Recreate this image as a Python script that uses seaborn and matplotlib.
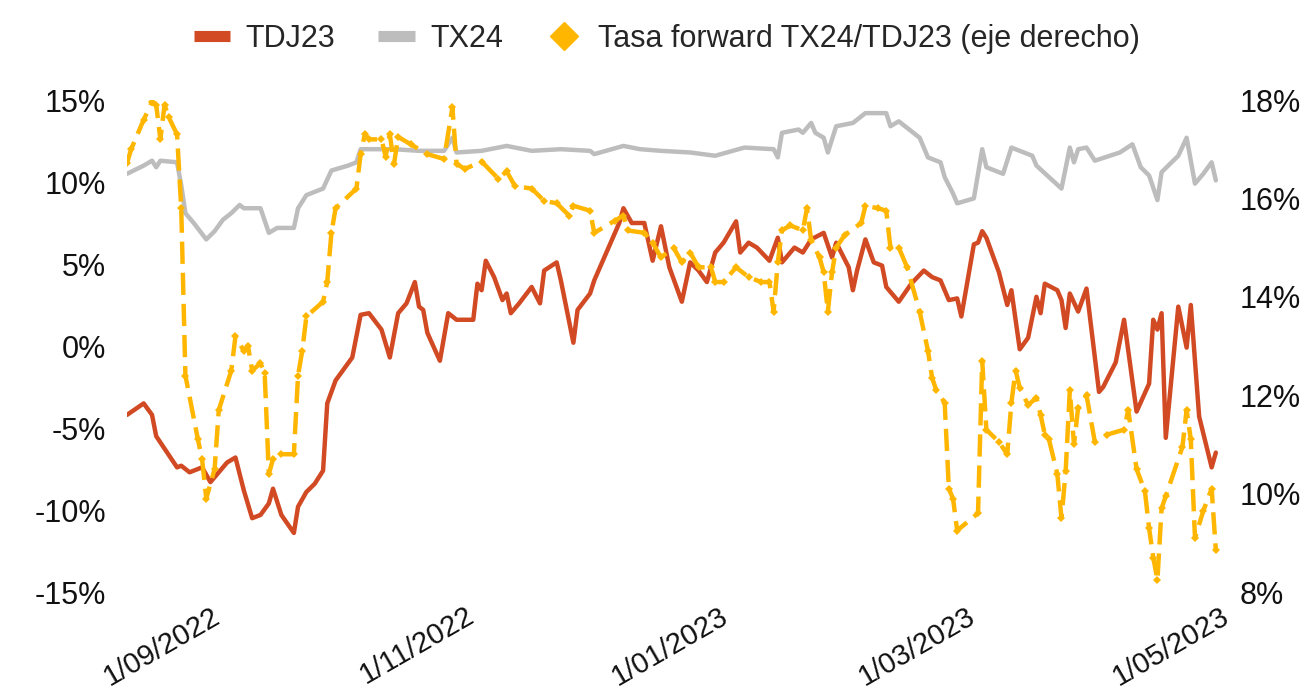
import pandas as pd
import seaborn as sns
import matplotlib.pyplot as plt
from matplotlib.lines import Line2D

# TDJ23 (left axis, %)
tdj23_dates = [
    "12/08/2022", "16/08/2022", "18/08/2022", "19/08/2022", "24/08/2022", "25/08/2022", "27/08/2022", "30/08/2022", "01/09/2022", "02/09/2022",
    "05/09/2022", "07/09/2022", "09/09/2022", "11/09/2022", "13/09/2022", "15/09/2022", "16/09/2022", "18/09/2022", "21/09/2022", "22/09/2022",
    "24/09/2022", "26/09/2022", "28/09/2022", "29/09/2022", "01/10/2022", "05/10/2022", "07/10/2022", "09/10/2022", "12/10/2022", "14/10/2022",
    "16/10/2022", "18/10/2022", "20/10/2022", "21/10/2022", "22/10/2022", "23/10/2022", "26/10/2022", "28/10/2022", "30/10/2022", "03/11/2022",
    "04/11/2022", "05/11/2022", "06/11/2022", "08/11/2022", "10/11/2022", "11/11/2022", "12/11/2022", "14/11/2022", "17/11/2022", "19/11/2022",
    "20/11/2022", "23/11/2022", "24/11/2022", "27/11/2022", "28/11/2022", "01/12/2022", "02/12/2022", "08/12/2022", "09/12/2022", "11/12/2022",
    "14/12/2022", "16/12/2022", "18/12/2022", "20/12/2022", "23/12/2022", "25/12/2022", "27/12/2022", "29/12/2022", "31/12/2022", "02/01/2023",
    "05/01/2023", "06/01/2023", "08/01/2023", "10/01/2023", "13/01/2023", "15/01/2023", "16/01/2023", "19/01/2023", "21/01/2023", "23/01/2023",
    "26/01/2023", "28/01/2023", "29/01/2023", "01/02/2023", "02/02/2023", "03/02/2023", "05/02/2023", "07/02/2023", "09/02/2023", "10/02/2023",
    "13/02/2023", "16/02/2023", "19/02/2023", "21/02/2023", "23/02/2023", "25/02/2023", "27/02/2023", "28/02/2023", "03/03/2023", "04/03/2023",
    "05/03/2023", "06/03/2023", "09/03/2023", "11/03/2023", "12/03/2023", "14/03/2023", "16/03/2023", "18/03/2023", "19/03/2023", "20/03/2023",
    "23/03/2023", "24/03/2023", "25/03/2023", "26/03/2023", "28/03/2023", "30/03/2023", "02/04/2023", "03/04/2023", "06/04/2023", "08/04/2023",
    "11/04/2023", "14/04/2023", "15/04/2023", "16/04/2023", "17/04/2023", "18/04/2023", "21/04/2023", "23/04/2023", "24/04/2023", "26/04/2023",
    "29/04/2023", "30/04/2023",
]
tdj23 = [
    -4.2, -3.5, -4.2, -5.5, -7.4, -7.3, -7.7, -7.4, -8.3, -8.0,
    -7.1, -6.8, -8.8, -10.5, -10.3, -9.6, -8.7, -10.3, -11.4, -9.8,
    -8.9, -8.4, -7.6, -3.5, -2.1, -0.7, 1.9, 2.0, 1.0, -0.7,
    2.0, 2.6, 3.9, 2.4, 2.2, 0.8, -0.9, 2.0, 1.6, 1.6,
    3.8, 3.4, 5.2, 4.2, 2.8, 3.2, 2.0, 2.6, 3.6, 2.6,
    4.6, 5.1, 4.0, 0.2, 2.2, 3.2, 4.0, 7.5, 8.4, 7.5,
    7.5, 5.2, 7.3, 4.8, 2.7, 5.1, 4.6, 3.9, 5.7, 6.3,
    7.6, 5.7, 6.3, 6.0, 5.2, 6.6, 5.1, 6.0, 5.7, 6.5,
    6.9, 5.4, 6.3, 4.8, 3.4, 4.6, 6.5, 5.1, 4.9, 3.6,
    2.7, 3.8, 4.6, 4.2, 4.0, 2.8, 2.9, 1.8, 6.2, 6.3,
    7.0, 6.6, 4.5, 2.5, 3.4, -0.2, 0.5, 3.0, 2.0, 3.8,
    3.4, 2.8, 1.1, 3.2, 2.1, 3.5, -2.8, -2.5, -1.0, 1.6,
    -4.0, -2.3, 1.6, 1.0, 2.0, -5.6, 2.4, -0.1, 2.5, -4.3,
    -7.4, -6.5,
]

# TX24 (left axis, %)
tx24_dates = [
    "12/08/2022", "16/08/2022", "18/08/2022", "19/08/2022", "20/08/2022", "24/08/2022", "25/08/2022", "26/08/2022", "28/08/2022", "31/08/2022",
    "02/09/2022", "04/09/2022", "06/09/2022", "08/09/2022", "09/09/2022", "13/09/2022", "15/09/2022", "17/09/2022", "21/09/2022", "22/09/2022",
    "24/09/2022", "28/09/2022", "30/09/2022", "04/10/2022", "06/10/2022", "07/10/2022", "15/10/2022", "21/10/2022", "27/10/2022", "29/10/2022",
    "30/10/2022", "05/11/2022", "11/11/2022", "17/11/2022", "24/11/2022", "01/12/2022", "02/12/2022", "09/12/2022", "13/12/2022", "18/12/2022",
    "25/12/2022", "31/12/2022", "07/01/2023", "14/01/2023", "15/01/2023", "16/01/2023", "20/01/2023", "21/01/2023", "23/01/2023", "24/01/2023",
    "26/01/2023", "27/01/2023", "29/01/2023", "02/02/2023", "05/02/2023", "10/02/2023", "11/02/2023", "13/02/2023", "18/02/2023", "20/02/2023",
    "23/02/2023", "24/02/2023", "26/02/2023", "27/02/2023", "03/03/2023", "05/03/2023", "06/03/2023", "10/03/2023", "12/03/2023", "15/03/2023",
    "17/03/2023", "18/03/2023", "24/03/2023", "26/03/2023", "27/03/2023", "28/03/2023", "30/03/2023", "01/04/2023", "07/04/2023", "10/04/2023",
    "12/04/2023", "14/04/2023", "16/04/2023", "17/04/2023", "21/04/2023", "23/04/2023", "25/04/2023", "27/04/2023", "29/04/2023", "30/04/2023",
]
tx24 = [
    10.5, 11.0, 11.3, 10.9, 11.3, 11.2, 9.8, 8.1, 7.5, 6.5,
    7.0, 7.7, 8.1, 8.6, 8.4, 8.4, 6.9, 7.2, 7.2, 8.4,
    9.2, 9.6, 10.7, 11.0, 11.2, 12.0, 12.0, 11.9, 11.9, 12.7,
    11.8, 11.9, 12.2, 11.9, 12.0, 11.9, 11.7, 12.2, 12.0, 11.9,
    11.8, 11.6, 12.1, 12.0, 11.5, 13.0, 13.2, 13.0, 13.6, 13.0,
    12.7, 11.8, 13.4, 13.6, 14.2, 14.2, 13.4, 13.7, 12.7, 11.5,
    11.2, 10.3, 9.3, 8.7, 9.0, 12.0, 10.9, 10.5, 12.1, 11.8,
    11.6, 11.0, 9.6, 12.1, 11.2, 12.0, 12.1, 11.3, 11.8, 12.3,
    10.9, 10.4, 8.9, 10.6, 11.6, 12.7, 9.9, 10.5, 11.2, 10.1,
]

# Tasa forward TX24/TDJ23 (right axis, %)
fwd_dates = [
    "12/08/2022", "13/08/2022", "16/08/2022", "18/08/2022", "19/08/2022", "20/08/2022", "21/08/2022", "22/08/2022", "24/08/2022", "25/08/2022",
    "26/08/2022", "29/08/2022", "30/08/2022", "31/08/2022", "02/09/2022", "03/09/2022", "06/09/2022", "07/09/2022", "09/09/2022", "10/09/2022",
    "11/09/2022", "13/09/2022", "14/09/2022", "15/09/2022", "16/09/2022", "18/09/2022", "21/09/2022", "22/09/2022", "23/09/2022", "24/09/2022",
    "28/09/2022", "29/09/2022", "30/09/2022", "01/10/2022", "06/10/2022", "07/10/2022", "08/10/2022", "09/10/2022", "12/10/2022", "13/10/2022",
    "14/10/2022", "15/10/2022", "16/10/2022", "19/10/2022", "23/10/2022", "27/10/2022", "29/10/2022", "30/10/2022", "01/11/2022", "05/11/2022",
    "09/11/2022", "11/11/2022", "13/11/2022", "17/11/2022", "20/11/2022", "23/11/2022", "26/11/2022", "27/11/2022", "01/12/2022", "02/12/2022",
    "07/12/2022", "09/12/2022", "10/12/2022", "14/12/2022", "16/12/2022", "18/12/2022", "21/12/2022", "23/12/2022", "25/12/2022", "27/12/2022",
    "30/12/2022", "31/12/2022", "02/01/2023", "05/01/2023", "08/01/2023", "11/01/2023", "13/01/2023", "14/01/2023", "15/01/2023", "16/01/2023",
    "18/01/2023", "21/01/2023", "22/01/2023", "23/01/2023", "25/01/2023", "26/01/2023", "27/01/2023", "28/01/2023", "29/01/2023", "31/01/2023",
    "04/02/2023", "05/02/2023", "08/02/2023", "10/02/2023", "11/02/2023", "13/02/2023", "15/02/2023", "18/02/2023", "20/02/2023", "21/02/2023",
    "22/02/2023", "24/02/2023", "25/02/2023", "26/02/2023", "27/02/2023", "04/03/2023", "05/03/2023", "06/03/2023", "09/03/2023", "11/03/2023",
    "12/03/2023", "13/03/2023", "14/03/2023", "16/03/2023", "18/03/2023", "19/03/2023", "20/03/2023", "21/03/2023", "23/03/2023", "24/03/2023",
    "25/03/2023", "26/03/2023", "27/03/2023", "28/03/2023", "30/03/2023", "01/04/2023", "04/04/2023", "08/04/2023", "09/04/2023", "11/04/2023",
    "13/04/2023", "14/04/2023", "15/04/2023", "16/04/2023", "17/04/2023", "18/04/2023", "22/04/2023", "23/04/2023", "24/04/2023", "25/04/2023",
    "27/04/2023", "29/04/2023", "30/04/2023",
]
fwd = [
    16.72, 17.0, 17.6, 17.96, 17.9, 17.2, 17.9, 17.65, 17.3, 15.8,
    12.4, 11.1, 10.7, 9.9, 10.5, 11.7, 12.5, 13.2, 12.9, 13.0,
    12.5, 12.65, 12.45, 10.4, 10.7, 10.8, 10.8, 12.4, 12.9, 13.6,
    13.9, 14.3, 15.3, 15.8, 16.2, 16.9, 17.3, 17.2, 17.2, 16.85,
    17.3, 16.7, 17.25, 17.1, 16.9, 16.8, 17.85, 16.7, 16.6, 16.75,
    16.4, 16.55, 16.25, 16.2, 15.95, 15.9, 15.65, 15.85, 15.75, 15.3,
    15.55, 15.65, 15.35, 15.3, 15.1, 14.8, 15.0, 14.7, 14.9, 14.6,
    14.6, 14.3, 14.3, 14.6, 14.4, 14.3, 14.3, 13.7, 14.7, 15.35,
    15.45, 15.35, 15.8, 15.15, 14.8, 14.5, 13.7, 14.5, 15.0, 15.25,
    15.5, 15.85, 15.8, 15.75, 15.0, 15.0, 14.6, 13.7, 12.9, 12.35,
    12.1, 11.85, 10.1, 9.9, 9.25, 9.6, 12.7, 11.3, 11.05, 10.8,
    11.85, 12.5, 12.15, 11.8, 11.95, 11.6, 11.2, 11.1, 10.4, 9.5,
    10.45, 12.1, 11.0, 11.75, 12.0, 11.05, 11.2, 11.3, 11.7, 10.5,
    10.05, 9.3, 8.7, 8.25, 9.7, 9.95, 10.95, 11.7, 11.1, 9.1,
    9.65, 10.1, 8.85,
]

tick_labels = ["1/09/2022", "1/11/2022", "1/01/2023", "1/03/2023", "1/05/2023"]
left_ticks = [-15, -10, -5, 0, 5, 10, 15]
right_ticks = [8, 10, 12, 14, 16, 18]

RED = "#D14A24"
GREY = "#BDBDBD"
YELLOW = "#FFB600"

df_tdj = pd.DataFrame({"fecha": pd.to_datetime(tdj23_dates, dayfirst=True), "valor": tdj23})
df_tx = pd.DataFrame({"fecha": pd.to_datetime(tx24_dates, dayfirst=True), "valor": tx24})
df_fwd = pd.DataFrame({"fecha": pd.to_datetime(fwd_dates, dayfirst=True), "valor": fwd})

sns.set_theme(style="white")
plt.rcParams["font.family"] = ["Liberation Sans", "DejaVu Sans"]

fig, ax = plt.subplots(figsize=(13.07, 6.96), dpi=100)
fig.subplots_adjust(left=127 / 1307, right=1220 / 1307, bottom=1 - 592 / 696, top=1 - 100 / 696)
ax2 = ax.twinx()

sns.lineplot(data=df_tx, x="fecha", y="valor", ax=ax, color=GREY, linewidth=3.2)
sns.lineplot(data=df_tdj, x="fecha", y="valor", ax=ax, color=RED, linewidth=3.2)
sns.lineplot(data=df_fwd, x="fecha", y="valor", ax=ax2, color=YELLOW, linewidth=3.2,
             linestyle=(0, (5, 2)), marker="D", markersize=4.5, markeredgewidth=0)

ax.set_xlim(pd.Timestamp("2022-08-12"), pd.Timestamp("2023-05-01"))
ax.set_ylim(-15, 15)
ax2.set_ylim(8, 18)

ax.set_xticks(pd.to_datetime(tick_labels, dayfirst=True))
ax.set_xticklabels(tick_labels, rotation=30, ha="right", rotation_mode="anchor")
ax.set_yticks(left_ticks)
ax.set_yticklabels([f"{t}%" for t in left_ticks])
ax2.set_yticks(right_ticks)
ax2.set_yticklabels([f"{t}%" for t in right_ticks])

for a in (ax, ax2):
    a.set_xlabel("")
    a.set_ylabel("")
    for s in a.spines.values():
        s.set_visible(False)
    a.tick_params(axis="both", length=0, labelsize=22, colors="#111111")
ax.tick_params(axis="y", pad=15)
ax2.tick_params(axis="y", pad=14)
ax.tick_params(axis="x", pad=7, labelsize=21)

handles = [
    Line2D([], [], color=RED, linewidth=8, solid_capstyle="butt"),
    Line2D([], [], color=GREY, linewidth=8, solid_capstyle="butt"),
    Line2D([], [], color=YELLOW, linestyle="none", marker="D", markersize=14),
]
labels = ["TDJ23", "TX24", "Tasa forward TX24/TDJ23 (eje derecho)"]
fig.legend(handles, labels, loc="upper center", bbox_to_anchor=(0.51, 1.005), ncol=3,
           frameon=False, fontsize=22, handlelength=1.2, handletextpad=0.5, columnspacing=1.4)

fig.savefig("out.png", dpi=100)
